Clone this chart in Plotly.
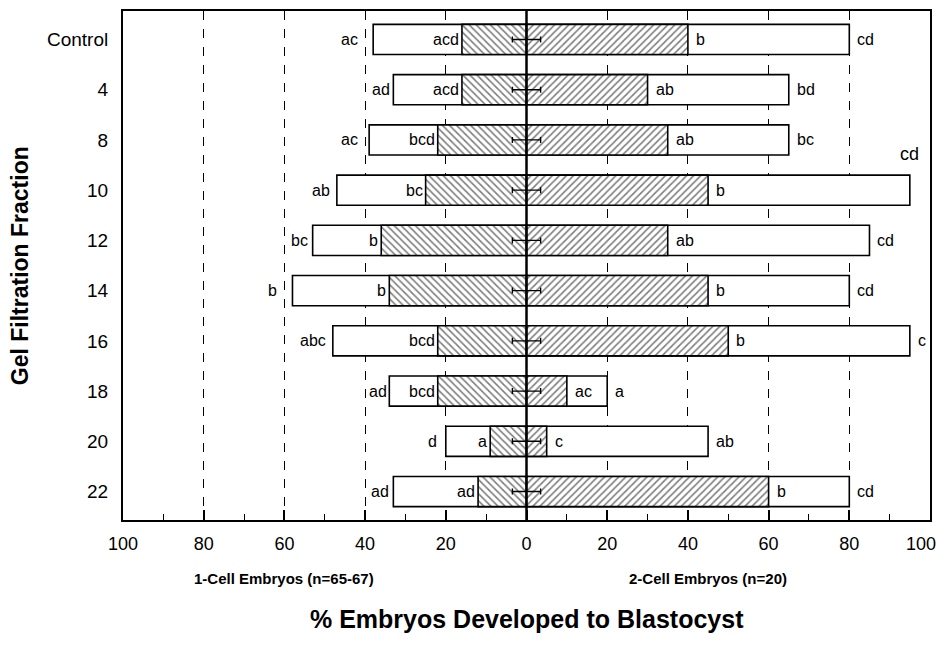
import plotly.graph_objects as go

categories = ["Control", "4", "8", "10", "12", "14", "16", "18", "20", "22"]
one_cell_total = [38, 33, 39, 47, 53, 58, 48, 34, 20, 33]
one_cell_hatch = [16, 16, 22, 25, 36, 34, 22, 22, 9, 12]
two_cell_hatch = [40, 30, 35, 45, 35, 45, 50, 10, 5, 60]
two_cell_total = [80, 65, 65, 95, 85, 80, 95, 20, 45, 80]
err = [3.5] * 10

one_total_lbl = ["ac", "ad", "ac", "ab", "bc", "b", "abc", "ad", "d", "ad"]
one_hatch_lbl = ["acd", "acd", "bcd", "bc", "b", "b", "bcd", "bcd", "a", "ad"]
two_hatch_lbl = ["b", "ab", "ab", "b", "ab", "b", "b", "ac", "c", "b"]
two_total_lbl = ["cd", "bd", "bc", "cd", "cd", "cd", "c", "a", "ab", "cd"]

tickvals = [-100, -80, -60, -40, -20, 0, 20, 40, 60, 80, 100]
ticktext = ["100", "80", "60", "40", "20", "0", "20", "40", "60", "80", ""]
edge_tick_label = "100"

# label pixel offsets (layout only)
left_outer_shift = [-13, -1, -9, -5, -3, -13, -5, 0, -7, -2]

FONT = "Liberation Sans Narrow, Arial Narrow, Liberation Sans, Arial, sans-serif"
BW = 0.6

fig = go.Figure()
line = dict(color="black", width=1.6)
fig.add_trace(go.Bar(y=categories, x=[-v for v in one_cell_total], orientation="h",
                     width=BW, marker=dict(color="white", line=line), showlegend=False))
fig.add_trace(go.Bar(y=categories, x=two_cell_total, orientation="h",
                     width=BW, marker=dict(color="white", line=line), showlegend=False))
fig.add_trace(go.Bar(y=categories, x=[-v for v in one_cell_hatch], orientation="h",
                     width=BW, marker=dict(color="white", line=line,
                                           pattern=dict(shape="\\", fgcolor="black", bgcolor="white",
                                                        size=5, solidity=0.33)),
                     showlegend=False))
fig.add_trace(go.Bar(y=categories, x=two_cell_hatch, orientation="h",
                     width=BW, marker=dict(color="white", line=line,
                                           pattern=dict(shape="/", fgcolor="black", bgcolor="white",
                                                        size=5, solidity=0.33)),
                     showlegend=False))
fig.add_trace(go.Scatter(y=categories, x=[0] * len(categories), mode="markers",
                         marker=dict(size=1, color="rgba(0,0,0,0)"),
                         error_x=dict(type="data", array=err, color="black", thickness=1.4, width=3),
                         showlegend=False, hoverinfo="skip"))

ann = []
lf = dict(family=FONT, size=16, color="black")
for i, c in enumerate(categories):
    ann.append(dict(x=-one_cell_total[i], y=i, text=one_total_lbl[i], xanchor="right",
                    xshift=left_outer_shift[i], showarrow=False, font=lf))
    ann.append(dict(x=-one_cell_hatch[i], y=i, text=one_hatch_lbl[i], xanchor="right",
                    xshift=-1, showarrow=False, font=lf))
    ann.append(dict(x=two_cell_hatch[i], y=i, text=two_hatch_lbl[i], xanchor="left",
                    xshift=6, showarrow=False, font=lf))
    if i == 3:
        ann.append(dict(x=two_cell_total[i], y=i, text=two_total_lbl[i], xanchor="center",
                        yshift=36, showarrow=False, font=dict(family=FONT, size=18, color="black")))
    else:
        ann.append(dict(x=two_cell_total[i], y=i, text=two_total_lbl[i], xanchor="left",
                        xshift=6, showarrow=False, font=lf))

ann.append(dict(x=tickvals[-1], xref="x", y=-0.047, yref="paper", text=edge_tick_label,
                xanchor="right", xshift=8, yanchor="middle", showarrow=False,
                font=dict(family=FONT, size=18, color="black")))

bold = dict(family=FONT, size=15, color="black")
ann.append(dict(x=-60, xref="x", y=-0.115, yref="paper", text="<b>1-Cell Embryos (n=65-67)</b>",
                showarrow=False, font=bold, xanchor="center", yanchor="middle"))
ann.append(dict(x=45, xref="x", y=-0.115, yref="paper", text="<b>2-Cell Embryos (n=20)</b>",
                showarrow=False, font=bold, xanchor="center", yanchor="middle"))
ann.append(dict(x=0.5, xref="paper", y=-0.195, yref="paper",
                text="<b>% Embryos Developed to Blastocyst</b>",
                showarrow=False, font=dict(family="Liberation Sans, Arial, sans-serif", size=25, color="black"),
                xanchor="center", yanchor="middle"))
ann.append(dict(x=-0.128, xref="paper", y=0.5, yref="paper", text="<b>Gel Filtration Fraction</b>",
                textangle=-90, showarrow=False, font=dict(family=FONT, size=23, color="black"),
                xanchor="center", yanchor="middle"))

fig.update_layout(
    barmode="overlay",
    width=937, height=642,
    margin=dict(l=115, r=15, t=1, b=130),
    plot_bgcolor="white", paper_bgcolor="white",
    annotations=ann,
    shapes=[dict(type="line", xref="x", yref="paper", x0=0, x1=0, y0=0, y1=1,
                 line=dict(color="black", width=2.5), layer="above")],
    xaxis=dict(range=[-100, 100], tickvals=tickvals, ticktext=ticktext,
               ticks="inside", ticklen=10, tickwidth=1.5, tickcolor="black",
               minor=dict(dtick=10, tick0=0, ticks="inside", ticklen=6, tickwidth=1.2, tickcolor="black",
                          showgrid=False),
               showgrid=True, gridcolor="black", gridwidth=1, griddash="dash",
               zeroline=False, showline=True, linecolor="black", linewidth=2, mirror=True,
               ticklabeloverflow="allow", ticklabelstandoff=6,
               tickfont=dict(family=FONT, size=18, color="black")),
    yaxis=dict(type="category", categoryorder="array", categoryarray=categories, autorange="reversed",
               showgrid=False, zeroline=False, showline=True, linecolor="black", linewidth=2,
               mirror=True, ticks="", ticklabelstandoff=9,
               tickfont=dict(family=FONT, size=19, color="black")),
)

fig.write_html("out.html")
